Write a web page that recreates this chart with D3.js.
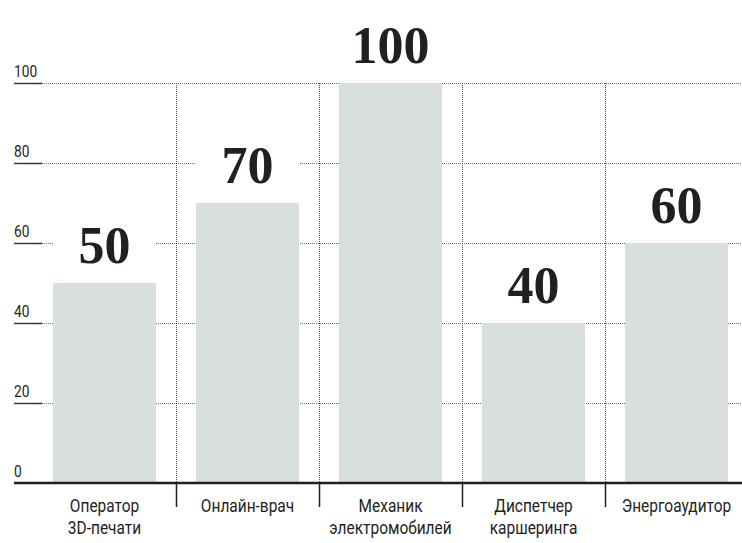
<!DOCTYPE html>
<html>
<head>
<meta charset="utf-8">
<script src="https://cdn.jsdelivr.net/npm/d3@7"></script>
<style>
  html, body { margin: 0; padding: 0; background: #ffffff; }
  svg { display: block; }
  .cond { font-family: "Roboto", "DejaVu Sans", sans-serif; }
  .val { font-family: "Liberation Serif", "DejaVu Serif", serif; font-weight: bold; }
</style>
</head>
<body>
<svg id="chart" width="742" height="543"></svg>
<script>
const categories = ["Оператор 3D-печати", "Онлайн-врач", "Механик электромобилей", "Диспетчер каршеринга", "Энергоаудитор"];
const categoryLines = [["Оператор", "3D-печати"], ["Онлайн-врач"], ["Механик", "электромобилей"], ["Диспетчер", "каршеринга"], ["Энергоаудитор"]];
const values = [50, 70, 100, 40, 60];
const yTicks = [0, 20, 40, 60, 80, 100];

const W = 742, H = 543;
const svg = d3.select("#chart");

const x = d3.scaleBand().domain(categories).range([33, 748]).paddingInner(0.28).paddingOuter(0.14);
const y = d3.scaleLinear().domain([0, 100]).range([483, 83]);
const step = x.step();
const gap = step * 0.14;

const textColor = "#231f20";
const barColor = "#d9e0dc";
const squeeze = 0.86;

// horizontal gridlines (dotted)
const grid = svg.append("g");
grid.selectAll("line.h").data(yTicks.filter(d => d > 0)).join("line")
  .attr("class", "h")
  .attr("x1", 42).attr("x2", W)
  .attr("y1", d => y(d) + 0.5).attr("y2", d => y(d) + 0.5)
  .attr("stroke", "#6f6f6f").attr("stroke-width", 1).attr("stroke-dasharray", "1,1");

// vertical dotted separators
const seps = categories.slice(1).map(c => x(c) - gap);
grid.selectAll("line.v").data(seps).join("line")
  .attr("class", "v")
  .attr("x1", d => d + 0.5).attr("x2", d => d + 0.5)
  .attr("y1", y(100)).attr("y2", y(0))
  .attr("stroke", "#4a4a4a").attr("stroke-width", 1).attr("stroke-dasharray", "1,1");

// tick stubs
svg.append("g").selectAll("line").data(yTicks.filter(d => d > 0)).join("line")
  .attr("x1", 14).attr("x2", 42)
  .attr("y1", d => y(d) + 0.5).attr("y2", d => y(d) + 0.5)
  .attr("stroke", "#3a3a3a").attr("stroke-width", 1.5);

// y tick labels
svg.append("g").selectAll("g").data(yTicks).join("g")
  .attr("transform", d => `translate(14,${y(d) - 6}) scale(${squeeze},1)`)
  .append("text")
  .attr("class", "cond")
  .attr("font-size", 16).attr("fill", textColor)
  .text(d => d);

// bars
svg.append("g").selectAll("rect").data(values).join("rect")
  .attr("x", (d, i) => x(categories[i]))
  .attr("width", x.bandwidth())
  .attr("y", d => y(d))
  .attr("height", d => y(0) - y(d))
  .attr("fill", barColor);

// label backgrounds
svg.append("g").selectAll("rect").data(values).join("rect")
  .attr("x", (d, i) => x(categories[i]))
  .attr("width", x.bandwidth())
  .attr("y", d => y(d) - 60)
  .attr("height", 59)
  .attr("fill", "#ffffff");

// value labels
svg.append("g").selectAll("text").data(values).join("text")
  .attr("class", "val")
  .attr("x", (d, i) => x(categories[i]) + x.bandwidth() / 2)
  .attr("y", d => y(d) - 20)
  .attr("text-anchor", "middle")
  .attr("font-size", 52).attr("fill", textColor)
  .text(d => d);

// baseline axis
svg.append("line")
  .attr("x1", 14).attr("x2", W)
  .attr("y1", y(0)).attr("y2", y(0))
  .attr("stroke", textColor).attr("stroke-width", 2.5);

// separators below axis
svg.append("g").selectAll("line").data(seps).join("line")
  .attr("x1", d => d + 0.5).attr("x2", d => d + 0.5)
  .attr("y1", y(0)).attr("y2", 507)
  .attr("stroke", textColor).attr("stroke-width", 1.5);

// category labels
const cg = svg.append("g").selectAll("g").data(categories).join("g")
  .attr("transform", d => `translate(${x(d) + x.bandwidth() / 2},512) scale(${squeeze},1)`);
cg.selectAll("text").data((d, i) => categoryLines[i]).join("text")
  .attr("class", "cond")
  .attr("text-anchor", "middle")
  .attr("font-size", 18).attr("fill", textColor)
  .attr("x", 0)
  .attr("y", (d, i) => i * 22)
  .text(d => d);
</script>
</body>
</html>
